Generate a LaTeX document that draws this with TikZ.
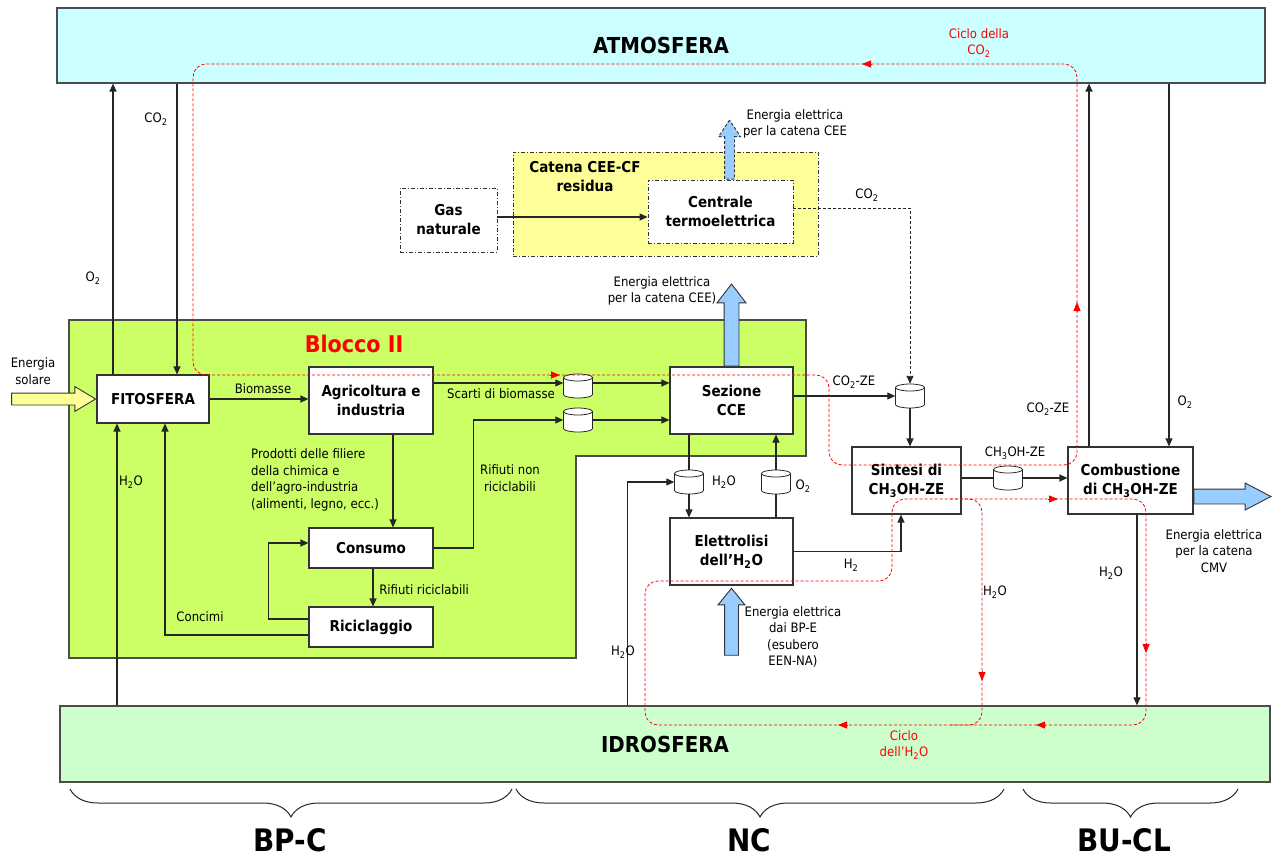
\documentclass[tikz,border=0pt]{standalone}
\usepackage{fontspec}
\setmainfont{DejaVu Sans}[FakeStretch=0.9]
\usetikzlibrary{arrows.meta,shapes.arrows,decorations.pathreplacing}

\definecolor{atmocol}{HTML}{CCFFFF}
\definecolor{hydrocol}{HTML}{CCFFCC}
\definecolor{blockcol}{HTML}{CCFF66}
\definecolor{chaincol}{HTML}{FFFF99}
\definecolor{powercol}{HTML}{99CCFF}
\definecolor{solarcol}{HTML}{FFFF99}

\newcommand{\lblfnt}{\fontsize{13}{16.5}\selectfont}
\newcommand{\boxfnt}{\bfseries\fontsize{15}{19}\selectfont}
\newcommand{\zonefnt}{\bfseries\fontsize{22}{26}\selectfont}
\newcommand{\sectfnt}{\bfseries\fontsize{31}{36}\selectfont}

\begin{document}
\begin{tikzpicture}[x=1pt,y=-1pt,
  frame/.style={draw=black!70, line width=1.2pt},
  box/.style={draw=black!80, fill=white, line width=1.1pt, align=center, font=\boxfnt, inner sep=1pt},
  dashdot box/.style={box, line width=0.9pt, dash pattern=on 4pt off 2pt on 1pt off 2pt},
  lbl/.style={font=\lblfnt, align=center, inner sep=0pt},
  link/.style={draw=black!85, line width=1.1pt},
  flow/.style={link, -{Triangle[length=8pt,width=7pt]}},
  co2link/.style={draw=black!85, line width=0.9pt, dash pattern=on 3pt off 2pt, -{Triangle[length=8pt,width=7pt]}},
  cycle path/.style={draw=red, line width=0.8pt, dash pattern=on 3pt off 2pt, rounded corners=13pt},
  cycle tip/.style={draw=red, line width=0.8pt, -{Triangle[length=9pt,width=7pt]}},
  power/.style={single arrow, draw=black!80, fill=powercol, line width=0.9pt, inner xsep=0pt},
  brace/.style={draw=black!85, line width=1pt, decorate, decoration={brace, mirror, amplitude=28pt}},
  drum/.pic={
    \path[draw=black!85, fill=white, line width=0.8pt]
      (-14.5pt,8.5pt) -- (-14.5pt,-8.5pt)
      arc[start angle=180, end angle=360, x radius=14.5pt, y radius=3.5pt]
      -- (14.5pt,8.5pt)
      arc[start angle=0, end angle=180, x radius=14.5pt, y radius=3.5pt] -- cycle;
    \draw[black!85, line width=0.8pt] (-14.5pt,8.5pt)
      arc[start angle=180, end angle=360, x radius=14.5pt, y radius=3.5pt];
    \node[inner sep=0pt, minimum width=29pt, minimum height=24pt] (-b) {};
  }
]
\useasboundingbox (0,0) rectangle (1277,859);

% ---- spheres and blocks ----
\node[frame, fill=atmocol, minimum width=1208pt, minimum height=75pt, inner sep=0pt, font=\zonefnt] (atm) at (661,45.5) {ATMOSFERA};
\node[frame, fill=hydrocol, minimum width=1210pt, minimum height=76pt, inner sep=0pt, font=\zonefnt] (idro) at (665,744) {IDROSFERA};

\draw[frame, fill=blockcol] (69,320) -- (806,320) -- (806,456) -- (576,456) -- (576,658) -- (69,658) -- cycle;
\node[font=\bfseries\fontsize{23}{27}\selectfont, text=red, inner sep=0pt] (blocco) at (354,344) {Blocco II};

\node[dashdot box, fill=chaincol, minimum width=305pt, minimum height=104pt] (chain) at (665.5,204) {};
\node[font=\boxfnt, align=center, inner sep=0pt] (chainlbl) at (585,177) {Catena CEE-CF\\residua};

% ---- process boxes ----
\node[dashdot box, minimum width=97pt, minimum height=64pt] (gas) at (448.5,220) {Gas\\naturale};
\node[dashdot box, minimum width=145pt, minimum height=63pt] (cent) at (720.5,211.5) {Centrale\\termoelettrica};

\node[box, minimum width=112pt, minimum height=48pt] (fito) at (153,399) {FITOSFERA};
\node[box, minimum width=124pt, minimum height=67pt] (agri) at (371,400.5) {Agricoltura e\\industria};
\node[box, minimum width=124pt, minimum height=40pt] (cons) at (371,548) {Consumo};
\node[box, minimum width=124pt, minimum height=40pt] (ric) at (371,627) {Riciclaggio};
\node[box, minimum width=123pt, minimum height=67pt] (sez) at (731.5,400.5) {Sezione\\CCE};
\node[box, minimum width=123pt, minimum height=67pt] (ele) at (731.5,551.5) {Elettrolisi\\dell’H\textsubscript{2}O};
\node[box, minimum width=109pt, minimum height=67pt] (sint) at (906.5,480.5) {Sintesi di\\CH\textsubscript{3}OH-ZE};
\node[box, minimum width=125pt, minimum height=67pt] (comb) at (1130.5,480.5) {Combustione\\di CH\textsubscript{3}OH-ZE};

% ---- storage drums ----
\pic (c1) at (578,386) {drum};
\pic (c2) at (578,420) {drum};
\pic (c3) at (910,396) {drum};
\pic (c4) at (689,482) {drum};
\pic (c5) at (776,482) {drum};
\pic (c6) at (1008,478) {drum};

% ---- flows ----
\draw[flow] ([yshift=3pt]gas.east) coordinate (g1) -- (g1 -| cent.west);
\draw[flow] ([xshift=-40pt]fito.north) coordinate (f1) -- (f1 |- atm.south);
\path ([xshift=24pt]fito.north) coordinate (f2);
\draw[flow] (f2 |- atm.south) -- (f2);
\path ([xshift=-36pt]fito.south) coordinate (f3);
\draw[flow] (f3 |- idro.north) -- (f3);
\path ([xshift=12pt]fito.south) coordinate (f4);
\draw[flow] ([yshift=-8pt]ric.west) -| (f4);
\draw[flow] ([yshift=8pt]ric.west) -- ++(-40,0) |- ([yshift=5pt]cons.west);
\draw[flow] ([xshift=2pt]cons.south) -- ([xshift=2pt]ric.north);
\draw[flow] ([xshift=22pt]agri.south) -- ([xshift=22pt]cons.north);
\draw[flow] (fito.east) -- (fito.east -| agri.west);
\draw[flow] ([yshift=3pt]agri.east |- c1-b.west) coordinate (a1) -- (a1 -| c1-b.west);
\draw[flow] (a1 -| c1-b.east) -- (a1 -| sez.west);
\draw[flow] (cons.east) -- ++(40,0) |- (c2-b.west);
\draw[flow] (c2-b.east) -- (c2-b.east -| sez.west);
\draw[flow] (sez.east |- c3-b.west) -- (c3-b.west);
\draw[co2link] ([yshift=3.5pt]cent.east) -| (c3-b.north);
\draw[flow] (c3-b.south) -- (c3-b.south |- sint.north);
\draw[link] (c4-b.north |- sez.south) -- (c4-b.north);
\draw[flow] (c4-b.south) -- (c4-b.south |- ele.north);
\path (c4-b.west) ++(-47,0) coordinate (w1);
\draw[flow] (w1 |- idro.north) -- (w1) -- (c4-b.west);
\draw[link] (c5-b.south |- ele.north) -- (c5-b.south);
\draw[flow] (c5-b.north) -- (c5-b.north |- sez.south);
\draw[flow] (ele.east) -| ([xshift=-5.5pt]sint.south);
\draw[link] (sint.east |- c6-b.west) -- (c6-b.west);
\draw[flow] (c6-b.east) -- (c6-b.east -| comb.west);
\draw[flow] ([xshift=-41.5pt]comb.north) coordinate (k1) -- (k1 |- atm.south);
\path ([xshift=38.5pt]comb.north) coordinate (k2);
\draw[flow] (k2 |- atm.south) -- (k2);
\draw[flow] ([xshift=6.5pt]comb.south) coordinate (k3) -- (k3 |- idro.north);

% ---- energy arrows ----
\node[power, fill=solarcol, inner ysep=5.5pt, minimum height=84pt, single arrow head extend=6.5pt, single arrow tip angle=62, anchor=tip] (solar) at (fito.west) {};
\node[power, rotate=90, inner ysep=7pt, minimum height=82pt, single arrow head extend=7pt, single arrow tip angle=75, anchor=tail] (ceeout) at (sez.north) {};
\node[power, dash pattern=on 3pt off 2pt, rotate=90, inner ysep=4.5pt, minimum height=59pt, single arrow head extend=6pt, single arrow tip angle=67, anchor=tail] (cfout) at ([xshift=9pt]cent.north) {};
\node[power, rotate=90, inner ysep=6.5pt, minimum height=67pt, single arrow head extend=6.5pt, single arrow tip angle=78, anchor=tip] (bpein) at ([yshift=-2pt]ele.south) {};
\node[power, inner ysep=7pt, minimum height=77pt, single arrow head extend=6pt, single arrow tip angle=55, anchor=tail] (cmvout) at ([yshift=-16pt]comb.east) {};

% ---- CO2 cycle ----
\draw[cycle path] (1077,300) -- (1077,64) -- (193,64) -- (193,375) -- (829,375) -- (829,465) -- (1077,465) -- cycle;
\draw[cycle tip] (872,64) -- (862,64);
\draw[cycle tip] (550,375) -- (560,375);
\draw[cycle tip] (1077,312) -- (1077,302);

% ---- H2O cycle ----
\draw[cycle path] (892,540) -- (892,499) -- (1146,499) -- (1146,725) -- (645,725) -- (645,581) -- (892,581) -- cycle;
\draw[cycle path] (950,499) -- (982,499) -- (982,725) -- (950,725);
\draw[cycle tip] (1048,499) -- (1058,499);
\draw[cycle tip] (1146,643) -- (1146,653);
\draw[cycle tip] (982,671) -- (982,681);
\draw[cycle tip] (1046,725) -- (1036,725);
\draw[cycle tip] (848,725) -- (838,725);

% ---- labels ----
\node[lbl] (lsolar) at (33,371) {Energia\\solare};
\node[lbl] (lo2a) at (93,278) {O\textsubscript{2}};
\node[lbl] (lco2a) at (156,119) {CO\textsubscript{2}};
\node[lbl] (lh2oa) at (131,482) {H\textsubscript{2}O};
\node[lbl] (lbio) at (263,389) {Biomasse};
\node[lbl, align=left, anchor=west] (lprod) at (251,480) {Prodotti delle filiere\\della chimica e\\dell’agro-industria\\(alimenti, legno, ecc.)};
\node[lbl] (lconc) at (200,617) {Concimi};
\node[lbl] (lricic) at (424,590) {Rifiuti riciclabili};
\node[lbl] (lscarti) at (501,394) {Scarti di biomasse};
\node[lbl] (lnonric) at (510,478) {Rifiuti non\\riciclabili};
\node[lbl] (lcee2) at (662,291) {Energia elettrica\\per la catena CEE)};
\node[lbl] (lcee1) at (795,124) {Energia elettrica\\per la catena CEE};
\node[lbl] (lco2b) at (867,195) {CO\textsubscript{2}};
\node[lbl] (lco2ze) at (854,382) {CO\textsubscript{2}-ZE};
\node[lbl] (lh2ob) at (724,482) {H\textsubscript{2}O};
\node[lbl] (lo2b) at (803,486) {O\textsubscript{2}};
\node[lbl] (lh2oc) at (623,652) {H\textsubscript{2}O};
\node[lbl] (lbpe) at (793,637) {Energia elettrica\\dai BP-E\\(esubero\\EEN-NA)};
\node[lbl] (lh2) at (851,565) {H\textsubscript{2}};
\node[lbl] (lch3oh) at (1015,453) {CH\textsubscript{3}OH-ZE};
\node[lbl] (lco2zeb) at (1048,409) {CO\textsubscript{2}-ZE};
\node[lbl] (lo2c) at (1185,402) {O\textsubscript{2}};
\node[lbl] (lh2od) at (1111,573) {H\textsubscript{2}O};
\node[lbl] (lh2oe) at (995,592) {H\textsubscript{2}O};
\node[lbl] (lcmv) at (1214,551) {Energia elettrica\\per la catena\\CMV};
\node[lbl, text=red] (lcicco2) at (979,43) {Ciclo della\\CO\textsubscript{2}};
\node[lbl, text=red] (lcich2o) at (904,745) {Ciclo\\dell’H\textsubscript{2}O};

% ---- chain sections ----
\draw[brace] (70,789) -- (512,789);
\draw[brace] (516,789) -- (1004,789);
\draw[brace] (1023,789) -- (1238,789);
\node[font=\sectfnt, inner sep=0pt] (secbpc) at (290,840) {BP-C};
\node[font=\sectfnt, inner sep=0pt] (secnc) at (749,840) {NC};
\node[font=\sectfnt, inner sep=0pt] (secbucl) at (1124,840) {BU-CL};
\end{tikzpicture}
\end{document}
